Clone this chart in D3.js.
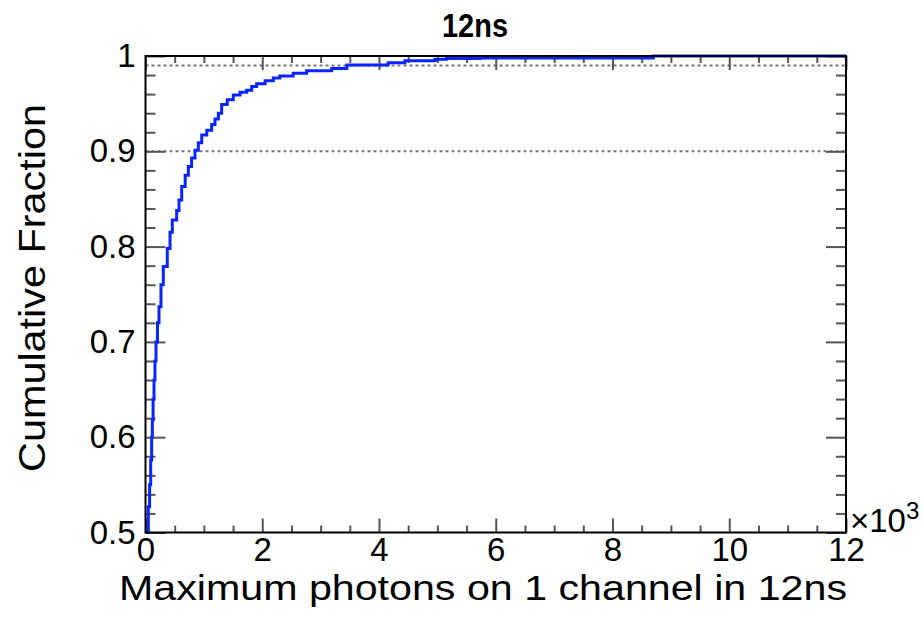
<!DOCTYPE html>
<html>
<head>
<meta charset="utf-8">
<script src="https://cdn.jsdelivr.net/npm/d3@7"></script>
<style>
  body { margin: 0; background: #fff; }
  text { font-family: "Liberation Sans", Arial, Helvetica, sans-serif; fill: #000; }
</style>
</head>
<body>
<svg id="chart"></svg>
<script>
// cumulative fraction (step curve)
const photons = [20, 48, 70, 89, 105, 117, 130, 146, 162, 180, 205, 231, 265, 305, 373, 420, 459, 534, 574,
    620, 680, 734, 790, 848, 905, 963, 1050, 1134, 1190, 1248, 1305, 1400, 1504, 1620, 1733, 1820, 1904,
    2050, 2189, 2300, 2530, 2760, 3190, 3450, 4155, 4445, 4960, 5160, 5730, 8700, 12000];
const fraction = [0.5, 0.527, 0.55, 0.576, 0.6, 0.618, 0.64, 0.66, 0.68, 0.7, 0.72, 0.737, 0.76, 0.779, 0.798, 0.815, 0.828, 0.838, 0.849,
    0.863, 0.875, 0.884, 0.893, 0.901, 0.909, 0.917, 0.922, 0.928, 0.934, 0.94, 0.949, 0.954, 0.959, 0.962, 0.964, 0.968, 0.971,
    0.974, 0.977, 0.979, 0.982, 0.9846, 0.987, 0.9906, 0.993, 0.995, 0.9965, 0.9975, 0.998, 1.0, 1.0];

const xTicks = [0, 2000, 4000, 6000, 8000, 10000, 12000];
const yTicks = [0.5, 0.6, 0.7, 0.8, 0.9, 1.0];
const refLines = [0.9, 0.99];

const W = 923, H = 627;
const margin = { top: 56, right: 77, bottom: 94.5, left: 145.5 },
    width = W - margin.left - margin.right,
    height = H - margin.top - margin.bottom;

const svg = d3.select("#chart").attr("width", W).attr("height", H);
const g = svg.append("g").attr("transform", "translate(" + margin.left + "," + margin.top + ")");

const x = d3.scaleLinear().domain([0, 12000]).range([0, width]);
const y = d3.scaleLinear().domain([0.5, 1.0]).range([height, 0]);

const xMinor = d3.range(0, 12001, 500).filter(d => d % 2000 !== 0);
const yMinor = d3.range(0, 26).map(i => +(0.5 + i * 0.02).toFixed(2)).filter(d => Math.round(d * 100) % 10 !== 0);

// dotted reference lines
g.selectAll(".ref")
    .data(refLines)
    .enter().append("line")
    .attr("x1", 0).attr("x2", width)
    .attr("y1", d => y(d)).attr("y2", d => y(d))
    .attr("stroke", "#777").attr("stroke-width", 2)
    .attr("stroke-dasharray", "3,3");

function styleTicks(sel) {
    sel.select(".domain").remove();
    sel.selectAll("line").attr("stroke", "#555").attr("stroke-width", 2);
    sel.selectAll("text").style("font-size", "33px");
}

// bottom axis
g.append("g").attr("transform", "translate(0," + height + ")")
    .call(d3.axisBottom(x).tickValues(xTicks).tickSize(-14).tickPadding(5).tickFormat(d => d / 1000))
    .call(styleTicks);
g.append("g").attr("transform", "translate(0," + height + ")")
    .call(d3.axisBottom(x).tickValues(xMinor).tickSize(-7).tickFormat(""))
    .call(styleTicks);
// top axis (ticks only)
g.append("g")
    .call(d3.axisBottom(x).tickValues(xTicks).tickSize(14).tickFormat(""))
    .call(styleTicks);
g.append("g")
    .call(d3.axisBottom(x).tickValues(xMinor).tickSize(7).tickFormat(""))
    .call(styleTicks);
// left axis
g.append("g")
    .call(d3.axisLeft(y).tickValues(yTicks).tickSize(-20).tickPadding(10).tickFormat(d => d === 1 ? "1" : d3.format(".1f")(d)))
    .call(styleTicks);
g.append("g")
    .call(d3.axisLeft(y).tickValues(yMinor).tickSize(-10).tickFormat(""))
    .call(styleTicks);
// right axis (ticks only)
g.append("g").attr("transform", "translate(" + width + ",0)")
    .call(d3.axisLeft(y).tickValues(yTicks).tickSize(20).tickFormat(""))
    .call(styleTicks);
g.append("g").attr("transform", "translate(" + width + ",0)")
    .call(d3.axisLeft(y).tickValues(yMinor).tickSize(10).tickFormat(""))
    .call(styleTicks);

// the curve
const line = d3.line()
    .x((d, i) => x(photons[i]))
    .y((d, i) => y(fraction[i]))
    .curve(d3.curveStepAfter);

g.append("path")
    .datum(photons)
    .attr("d", line)
    .attr("fill", "none")
    .attr("stroke", "#0a24ff")
    .attr("stroke-width", 3);

// frame
g.append("rect")
    .attr("width", width).attr("height", height)
    .attr("fill", "none").attr("stroke", "#000").attr("stroke-width", 2);

// x10^3 multiplier
const mult = g.append("text")
    .attr("x", width + 4).attr("y", height - 1)
    .style("font-size", "33px");
mult.append("tspan").text("\u00d710");
mult.append("tspan").attr("dy", -13).style("font-size", "24px").text("3");

// titles
svg.append("text")
    .attr("x", 475).attr("y", 37)
    .attr("text-anchor", "middle")
    .attr("textLength", 66).attr("lengthAdjust", "spacingAndGlyphs")
    .style("font-size", "33px").style("font-weight", "bold")
    .text("12ns");

svg.append("text")
    .attr("x", margin.left + width + 1).attr("y", 600)
    .attr("text-anchor", "end")
    .attr("textLength", 728).attr("lengthAdjust", "spacingAndGlyphs")
    .style("font-size", "35px")
    .text("Maximum photons on 1 channel in 12ns");

svg.append("text")
    .attr("transform", "translate(45,288) rotate(-90)")
    .attr("text-anchor", "middle")
    .attr("textLength", 368).attr("lengthAdjust", "spacingAndGlyphs")
    .style("font-size", "37px")
    .text("Cumulative Fraction");
</script>
</body>
</html>
